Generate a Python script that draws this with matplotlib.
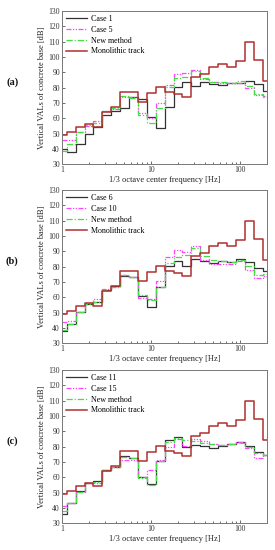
import matplotlib
matplotlib.use("Agg")
import matplotlib.pyplot as plt
from matplotlib.ticker import FixedLocator, NullFormatter, FuncFormatter

plt.rcParams['font.family'] = ['Liberation Serif', 'DejaVu Serif']

freqs = [1, 1.25, 1.6, 2, 2.5, 3.15, 4, 5, 6.3, 8, 10, 12.5, 16, 20, 25,
         31.5, 40, 50, 63, 80, 100, 125, 160, 200]

monolithic = [49, 51, 54.6, 56, 54.1, 64.3, 67.2, 77.4, 77.4, 70.4, 76.3, 80.7,
              77.4, 75.7, 74.1, 87.2, 88.9, 93.7, 95.2, 93.7, 97.4, 109.6, 98, 84.3]

# panel (a)
case1 = [40, 38, 43, 50, 54.5, 62, 65, 66.5, 73.7, 72.4, 61, 53.5, 67.2, 80.7,
         83.9, 81.3, 84, 82.5, 81.5, 83, 83, 84.5, 82.5, 78]
case5 = [45.9, 46, 50.9, 55, 58.5, 64.8, 66, 74, 74, 63.3, 60.5, 70.2, 81.7,
         88.9, 89.8, 91.5, 85.4, 84, 83, 83, 83, 79.6, 75.2, 74.5]
new_a = [38.7, 43, 51, 55.5, 56.7, 64.5, 66.5, 74.5, 73.5, 62.2, 57.2, 66.5,
         80.2, 86.1, 87.2, 91.1, 86.5, 84, 83.5, 83, 84.6, 81.1, 75.7, 74]

# panel (b)
case6 = [38, 42.8, 50.3, 55.5, 56.8, 65, 67.2, 74, 73.1, 60.7, 53.6, 66.8,
         80.2, 83.9, 80.6, 85, 83.5, 82.5, 83.5, 83, 85, 83, 79.1, 77]
case10 = [43.9, 44.5, 50.5, 56, 59, 65.5, 66.5, 74.5, 73.5, 59.7, 59, 70.9,
          86.1, 91, 89.3, 93.2, 84.5, 82, 81.5, 81.5, 84, 78, 72.6, 74]
new_b = [38.5, 42.5, 50.5, 55.5, 57, 65, 67, 74.5, 73.5, 61.5, 58.1, 67,
         82.4, 86.3, 87.8, 92.1, 86.7, 84.5, 83.5, 83, 84.5, 80.6, 74.8, 75]

# panel (c)
case11 = [36, 43.4, 51, 56, 57.5, 65, 67, 73.7, 72.5, 60, 55.5, 70.9, 84.1,
          86.3, 79.8, 80.9, 80.5, 79.4, 80.5, 81.5, 83, 80.6, 76.3, 74.8]
case15 = [41.5, 43, 50.5, 56, 56.5, 64.5, 67, 71.6, 71, 60, 64.5, 71.5, 79.8,
          85.2, 80.4, 85, 83.5, 81.5, 81, 81.5, 83, 78.9, 72.4, 74.5]
new_c = [38, 43, 50.5, 56, 57, 64.5, 67, 73.5, 72.5, 59.5, 55, 70.5, 83,
         85.5, 84, 83.5, 82.5, 81.5, 81, 81.5, 82.5, 80, 76, 74.5]

panels = [
    ("(a)", "Case 1", case1, "Case 5", case5, new_a),
    ("(b)", "Case 6", case6, "Case 10", case10, new_b),
    ("(c)", "Case 11", case11, "Case 15", case15, new_c),
]

ylabel = "Vertical VALs of concrete base [dB]"
xlabel = "1/3 octave center frequency [Hz]"

fig = plt.figure(figsize=(2.75, 5.5), dpi=100)
tops = [0.98, 0.6545, 0.3273]
height = 0.2787
left, width = 0.2255, 0.7455

for (lab, n1, d1, n2, d2, dn), top in zip(panels, tops):
    ax = fig.add_axes([left, top - height, width, height])
    ax.step(freqs, d1, where='mid', color='#333333', lw=0.9, label=n1)
    ax.step(freqs, d2, where='mid', color='#ff44ff', lw=0.9,
            linestyle=(0, (4, 1.2, 1, 1.2, 1, 1.2)), label=n2)
    ax.step(freqs, dn, where='mid', color='#44dd44', lw=0.9,
            linestyle=(0, (5, 1.5, 1, 1.5)), label='New method')
    ax.step(freqs, monolithic, where='mid', color='#b03030', lw=1.1,
            label='Monolithic track')
    ax.set_xscale('log')
    ax.set_xlim(1, 200)
    ax.set_ylim(30, 130)
    ax.set_yticks(range(30, 131, 10))
    ax.xaxis.set_major_locator(FixedLocator([1, 10, 100]))
    ax.xaxis.set_major_formatter(FuncFormatter(lambda v, p: f"{v:g}"))
    ax.xaxis.set_minor_locator(FixedLocator([2, 3, 4, 5, 6, 7, 8, 9, 20, 30, 40,
                                             50, 60, 70, 80, 90, 200]))
    ax.xaxis.set_minor_formatter(NullFormatter())
    ax.tick_params(which='both', direction='in', labelsize=5.5, width=0.5,
                   colors='#333333', pad=1.5)
    ax.tick_params(which='major', length=2.5)
    ax.tick_params(which='minor', length=1.5)
    for s in ax.spines.values():
        s.set_color('#777777')
        s.set_linewidth(0.7)
    ax.set_ylabel(ylabel, fontsize=6, labelpad=1.5, color='#222222')
    ax.set_xlabel(xlabel, fontsize=6, labelpad=1, color='#222222')
    ax.legend(loc='upper left', frameon=False, fontsize=5.8, handlelength=2.6,
              handletextpad=0.5, labelspacing=0.35, borderaxespad=0.2,
              borderpad=0.3)
    fig.text(0.045, top - height / 2 + 0.01, lab, fontsize=7.5, fontweight='bold',
             ha='center', va='center', color='#111111')

fig.savefig("out.png", dpi=100)
